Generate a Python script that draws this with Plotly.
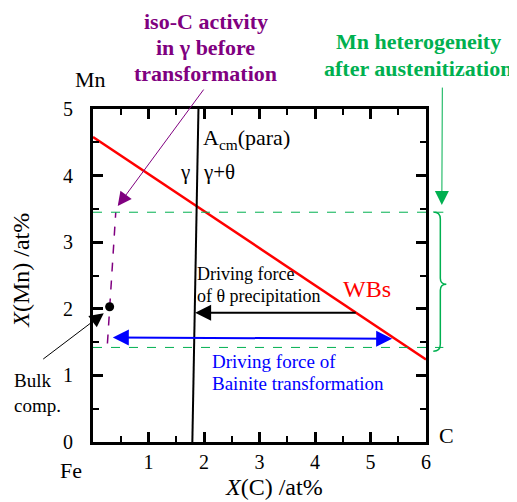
import plotly.graph_objects as go

# ---- data ----
wbs_x = [0.0, 6.0]
wbs_y = [4.58, 1.24]
acm_x = [1.79, 1.90]
acm_y = [0.0, 5.0]
isoc_x = [0.26, 0.41]
isoc_y = [1.48, 3.45]
bulk_x = [0.30]
bulk_y = [2.03]
mn_low, mn_high = 1.42, 3.45
theta_arrow = (4.76, 1.84, 1.94)      # x_from, x_to, y
bainite_arrow = (0.33, 5.39, 1.57)    # x_from, x_to, y
x_ticks = [0, 1, 2, 3, 4, 5, 6]
x_ticklabels = ["", "1", "2", "3", "4", "5", "6"]
y_ticks = [0, 1, 2, 3, 4, 5]
y_ticklabels = ["0", "1", "2", "3", "4", "5"]

FONT = "Liberation Serif"
GREEN = "#00B050"
PURPLE = "#800080"

# page body has an 8px margin; compensate
SH = 8
W, H = 517 - SH, 502 - SH
# plot area in window pixels
L, R, T, B = 93.3, 425.7, 109.0, 441.7
def px(p):
    return (p - L) / (R - L)
def py(p):
    return (B - p) / (B - T)

fig = go.Figure()
fig.add_trace(go.Scatter(x=wbs_x, y=wbs_y, mode="lines",
                         line=dict(color="#FF0000", width=2.5), showlegend=False))
fig.add_trace(go.Scatter(x=acm_x, y=acm_y, mode="lines",
                         line=dict(color="black", width=2), showlegend=False))
fig.add_trace(go.Scatter(x=isoc_x, y=isoc_y, mode="lines",
                         line=dict(color=PURPLE, width=1.5, dash="dash"), showlegend=False))
fig.add_trace(go.Scatter(x=bulk_x, y=bulk_y, mode="markers",
                         marker=dict(color="black", size=9), showlegend=False))

shapes = []
for yv in (mn_high, mn_low):
    shapes.append(dict(type="line", xref="paper", yref="paper",
                       x0=0, x1=px(443), y0=yv / 5, y1=yv / 5,
                       line=dict(color=GREEN, width=1, dash="dash")))
pts = {
    "a": (433, 212), "b": (440, 219), "c": (440, 278), "d": (446, 284),
    "e": (440, 290), "f": (440, 344), "g": (433, 351),
}
def P(k):
    x, y = pts[k]
    return f"{px(x):.5f},{py(y):.5f}"
path = (f"M {P('a')} Q {px(440):.5f},{py(212):.5f} {P('b')} L {P('c')} "
        f"Q {px(440):.5f},{py(284):.5f} {P('d')} Q {px(440):.5f},{py(284):.5f} {P('e')} "
        f"L {P('f')} Q {px(440):.5f},{py(351):.5f} {P('g')}")
shapes.append(dict(type="path", xref="paper", yref="paper", path=path,
                   line=dict(color=GREEN, width=1.5)))

ann = []
ann.append(dict(x=theta_arrow[1], y=theta_arrow[2], ax=theta_arrow[0], ay=theta_arrow[2],
                xref="x", yref="y", axref="x", ayref="y", text="", showarrow=True,
                arrowhead=2, arrowsize=1.6, arrowwidth=2, arrowcolor="black"))
ann.append(dict(x=bainite_arrow[1], y=bainite_arrow[2] - 0.02, ax=bainite_arrow[0], ay=bainite_arrow[2],
                xref="x", yref="y", axref="x", ayref="y", text="", showarrow=True,
                arrowhead=2, startarrowhead=2, arrowside="end+start", arrowsize=1.6,
                startarrowsize=1.6, arrowwidth=2, arrowcolor="#0000FF"))
ann.append(dict(x=px(118), y=py(206), xref="paper", yref="paper", ax=87, ay=-118,
                text="", showarrow=True, arrowhead=2, arrowsize=2.8, arrowwidth=1,
                arrowcolor=PURPLE))
ann.append(dict(x=px(441.5), y=py(205), xref="paper", yref="paper", ax=0.5, ay=-119,
                text="", showarrow=True, arrowhead=2, arrowsize=2.8, arrowwidth=1,
                arrowcolor=GREEN))
ann.append(dict(x=px(104), y=py(313), xref="paper", yref="paper", ax=-62, ay=47,
                text="", showarrow=True, arrowhead=2, arrowsize=2.8, arrowwidth=1,
                arrowcolor="black"))

def txt(x, y, t, size, color="black", xa="center", ya="middle", align="center", angle=0):
    ann.append(dict(x=x, y=y, xref="paper", yref="paper", text=t, showarrow=False,
                    xanchor=xa, yanchor=ya, align=align, textangle=angle,
                    font=dict(family=FONT, size=size, color=color)))

for t, yy in (("iso-C activity", 22), ("in γ before", 48), ("transformation", 74)):
    txt(px(206), py(yy), f"<b>{t}</b>", 22, PURPLE)
for t, yy in (("Mn heterogeneity", 42), ("after austenitization", 69)):
    txt(px(418), py(yy), f"<b>{t}</b>", 22, GREEN)
txt(px(201), py(139), "A<sub>cm</sub>(para)", 22, xa="left")
txt(px(185), py(172), "γ", 21)
txt(px(201), py(172), "γ+θ", 21, xa="left")
txt(px(195), py(274), "Driving force", 18, xa="left")
txt(px(195), py(296), "of θ precipitation", 18, xa="left")
txt(px(367), py(289), "WBs", 24, "#FF0000")
txt(px(210), py(361), "Driving force of", 19, "#0000FF", xa="left")
txt(px(210), py(383), "Bainite transformation", 19, "#0000FF", xa="left")
txt(px(12), py(380), "Bulk", 19, xa="left")
txt(px(12), py(405), "comp.", 19, xa="left")
txt(px(91), py(80), "Mn", 22)
txt(px(71), py(470), "Fe", 22)
txt(px(446), py(435), "C", 22)
txt(px(274), py(487), "<i>X</i>(C) /at%", 24)
txt(px(22), py(270), "<i>X</i>(Mn) /at%", 24, angle=-90)

axis_common = dict(showline=True, linewidth=3, linecolor="black", mirror="ticks",
                   ticks="inside", ticklen=10, tickwidth=3, tickcolor="black",
                   showgrid=False, zeroline=False,
                   tickfont=dict(family=FONT, size=20, color="black"))
fig.update_layout(
    width=W, height=H,
    margin=dict(l=L - SH, r=517 - R, t=T - SH, b=502 - B, pad=0),
    paper_bgcolor="white", plot_bgcolor="white",
    xaxis=dict(range=[0, 6], tickvals=x_ticks, ticktext=x_ticklabels,
               minor=dict(ticks="inside", ticklen=6, tickwidth=2, tickcolor="black", dtick=0.5, tick0=0),
               **axis_common),
    yaxis=dict(range=[0, 5], tickvals=y_ticks, ticktext=y_ticklabels,
               minor=dict(ticks="inside", ticklen=6, tickwidth=2, tickcolor="black", dtick=0.5, tick0=0),
               ticklabelstandoff=13, **axis_common),
    shapes=shapes, annotations=ann, showlegend=False,
)
fig.write_html("out.html")
